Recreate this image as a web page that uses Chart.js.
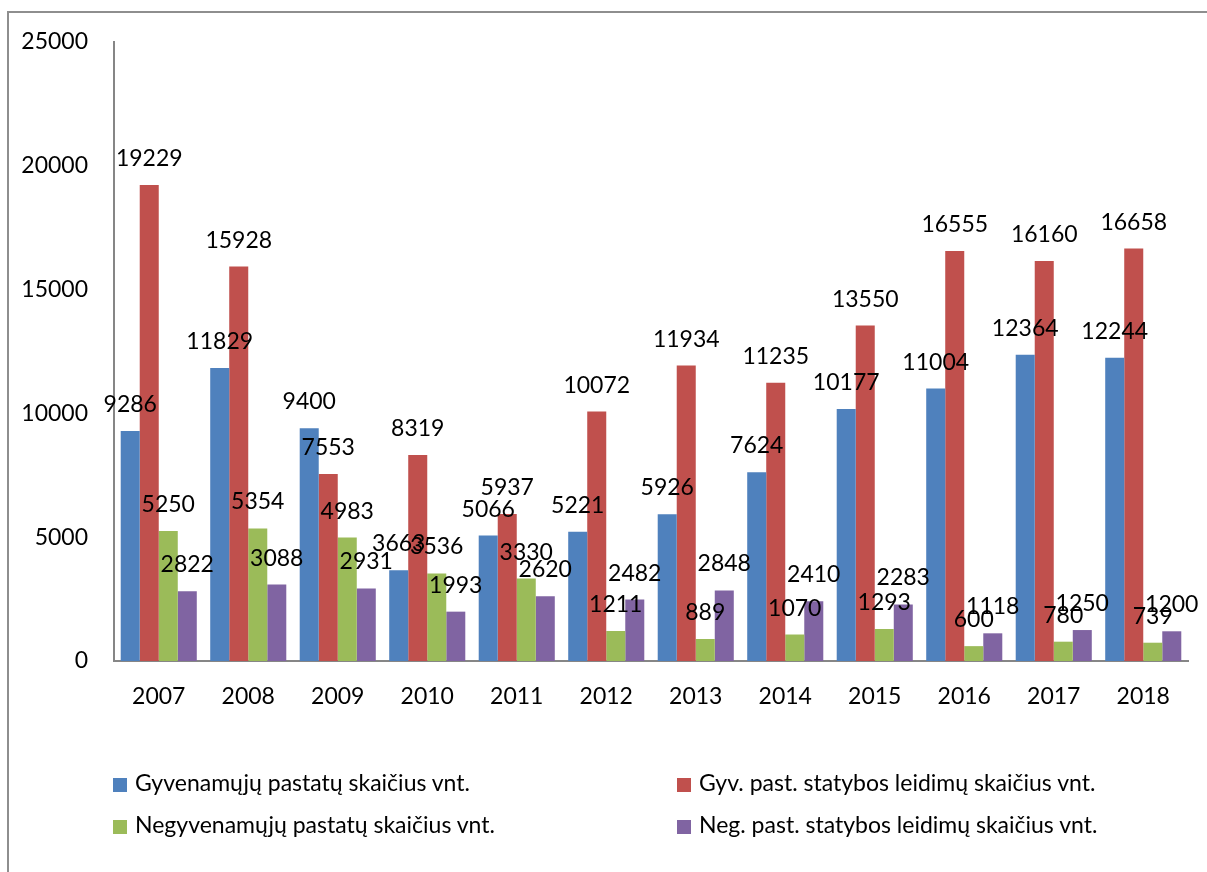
<!DOCTYPE html>
<html>
<head>
<meta charset="utf-8">
<script src="https://cdn.jsdelivr.net/npm/chart.js@4.4.0/dist/chart.umd.min.js"></script>
<style>
  html, body { margin: 0; padding: 0; background: #fff; }
  #wrap { position: relative; width: 1207px; height: 872px; overflow: hidden; }
  #frame { position: absolute; left: 7px; top: 11px; width: 1300px; height: 900px;
           border-left: 2px solid #8e8e8e; border-top: 2px solid #8e8e8e; box-sizing: border-box; }
  canvas { position: absolute; left: 0; top: 0; }
  .leg { position: absolute; font-family: Lato, "Open Sans", sans-serif; font-size: 23px; color: #000;
         white-space: nowrap; line-height: 26px; }
  .leg span.box { display: inline-block; width: 14px; height: 14px; margin-right: 8px; vertical-align: -1px; }
</style>
</head>
<body>
<div id="wrap">
  <div id="frame"></div>
  <canvas id="c" width="1207" height="872"></canvas>
  <div id="legend"></div>
</div>
<script>
const categories = ['2007','2008','2009','2010','2011','2012','2013','2014','2015','2016','2017','2018'];
const seriesNames = [
  'Gyvenamųjų pastatų skaičius vnt.',
  'Gyv. past. statybos leidimų skaičius vnt.',
  'Negyvenamųjų pastatų skaičius vnt.',
  'Neg. past. statybos leidimų skaičius vnt.'
];
const gyvenamieji = [9286, 11829, 9400, 3663, 5066, 5221, 5926, 7624, 10177, 11004, 12364, 12244];
const gyvLeidimai = [19229, 15928, 7553, 8319, 5937, 10072, 11934, 11235, 13550, 16555, 16160, 16658];
const negyvenamieji = [5250, 5354, 4983, 3536, 3330, 1211, 889, 1070, 1293, 600, 780, 739];
const negLeidimai = [2822, 3088, 2931, 1993, 2620, 2482, 2848, 2410, 2283, 1118, 1250, 1200];
const yTicks = [0, 5000, 10000, 15000, 20000, 25000];
const colors = ['#4F81BD', '#C0504D', '#9BBB59', '#8064A2'];

const FONT = 'Lato, "Open Sans", sans-serif';

const labelPlugin = {
  id: 'barLabels',
  afterDatasetsDraw(chart) {
    const ctx = chart.ctx;
    ctx.save();
    ctx.font = '23px ' + FONT;
    ctx.fillStyle = '#000';
    ctx.textAlign = 'center';
    ctx.textBaseline = 'alphabetic';
    chart.data.datasets.forEach((ds, i) => {
      const meta = chart.getDatasetMeta(i);
      meta.data.forEach((bar, j) => {
        ctx.fillText(String(ds.data[j]), bar.x, bar.y - 19);
      });
    });
    ctx.restore();
  }
};

const allSeries = [gyvenamieji, gyvLeidimai, negyvenamieji, negLeidimai];

new Chart(document.getElementById('c'), {
  type: 'bar',
  data: {
    labels: categories,
    datasets: allSeries.map((d, i) => ({
      label: seriesNames[i],
      data: d,
      backgroundColor: colors[i],
      borderWidth: 0,
      categoryPercentage: 0.85,
      barPercentage: 1.0
    }))
  },
  options: {
    responsive: false,
    animation: false,
    devicePixelRatio: 1,
    layout: { padding: { top: 42, right: 19, bottom: 151, left: 0 } },
    plugins: { legend: { display: false }, tooltip: { enabled: false } },
    scales: {
      x: {
        grid: { display: false, drawTicks: false },
        border: { display: true, color: '#868686', width: 2 },
        ticks: { font: { family: FONT, size: 23 }, color: '#000', padding: 22, maxRotation: 0 },
        afterFit(s) { s.height = 60; }
      },
      y: {
        min: 0, max: 25000,
        afterBuildTicks(s) { s.ticks = yTicks.map(v => ({ value: v })); },
        grid: { display: false, drawTicks: false },
        border: { display: true, color: '#868686', width: 2 },
        ticks: { font: { family: FONT, size: 23 }, color: '#000', padding: 26,
                 callback: (v) => String(v) },
        afterFit(s) { s.width = 114; }
      }
    }
  },
  plugins: [labelPlugin]
});

// legend (two columns, two rows)
const legPos = [[113, 769], [677, 769], [113, 811], [677, 811]];
const legEl = document.getElementById('legend');
seriesNames.forEach((n, i) => {
  const d = document.createElement('div');
  d.className = 'leg';
  d.style.left = legPos[i][0] + 'px';
  d.style.top = legPos[i][1] + 'px';
  d.innerHTML = '<span class="box" style="background:' + colors[i] + '"></span>' + n;
  legEl.appendChild(d);
});
</script>
</body>
</html>
